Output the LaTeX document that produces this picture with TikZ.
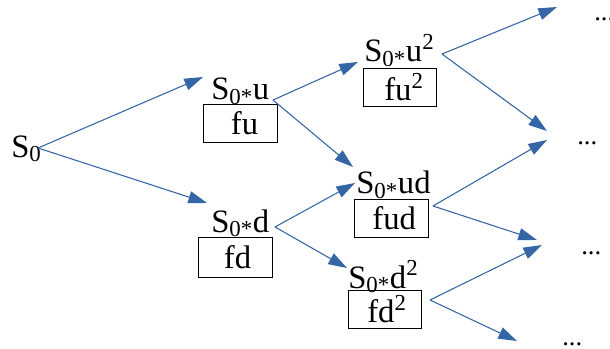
\documentclass[tikz,border=0pt]{standalone}
\usepackage{fontspec}
\setmainfont{Liberation Serif}
\usetikzlibrary{arrows.meta}
\definecolor{arrowblue}{HTML}{3465A4}
\begin{document}
\begin{tikzpicture}[x=0.75pt,y=-0.75pt,
  lab/.style={inner sep=0pt,anchor=base west,font=\fontsize{24.5}{24.5}\selectfont},
  valbox/.style={draw=black,line width=0.75pt,inner sep=0pt,font=\fontsize{24.5}{24.5}\selectfont},
  dots/.style={inner sep=0pt,anchor=base west,font=\fontsize{20}{20}\selectfont},
  arr/.style={draw=arrowblue,line width=0.8pt,-{Triangle[length=14pt,width=9pt]}}]
\useasboundingbox (0,0) rectangle (610,349);
\clip (0,0) rectangle (610,349);
% labels
\node[lab] (s0) at (11,157) {S\textsubscript{0}};
\node[lab] (su) at (211,100) {S\textsubscript{0*}u};
\node[lab] (sd) at (211,232) {S\textsubscript{0*}d};
\node[lab] (suu) at (364,62) {S\textsubscript{0*}u\textsuperscript{2}};
\node[lab] (sud) at (356,194) {S\textsubscript{0*}ud};
\node[lab] (sdd) at (348,288) {S\textsubscript{0*}d\textsuperscript{2}};
% boxes
\node[valbox,minimum width=55pt,minimum height=29pt] (bu) at (240.5,123.5) {\hspace{6pt}fu};
\node[valbox,minimum width=55pt,minimum height=30pt] (bd) at (235.5,257) {\hspace{3pt}fd};
\node[valbox,minimum width=55pt,minimum height=29pt] (buu) at (400,87.5) {\hspace{6pt}fu\textsuperscript{2}};
\node[valbox,minimum width=55pt,minimum height=29pt] (bud) at (391.5,218.5) {\hspace{4pt}fud};
\node[valbox,minimum width=55pt,minimum height=28.5pt] (bdd) at (385,309) {\hspace{3pt}fd\textsuperscript{2}};
% dots
\node[dots] (d1) at (594,21) {...};
\node[dots] (d2) at (577,145) {...};
\node[dots] (d3) at (581,254) {...};
\node[dots] (d4) at (562,345) {...};
% connector end points
\coordinate (p0) at (38,148);
\coordinate (t1) at (203,77);
\coordinate (t2) at (207,203);
\coordinate (pu) at (273,100);
\coordinate (t3) at (358,62);
\coordinate (t4) at (353,167);
\coordinate (pd) at (275,227);
\coordinate (t5) at (355,183);
\coordinate (t6) at (347,268);
\coordinate (puu) at (442,54);
\coordinate (t7) at (557,7);
\coordinate (t8) at (547,131);
\coordinate (pud) at (433,206);
\coordinate (t9) at (547,140);
\coordinate (t10) at (537,240);
\coordinate (pdd) at (430,300);
\coordinate (t11) at (542,245);
\coordinate (t12) at (517,341);
% arrows
\draw[arr] (p0) -- (t1);
\draw[arr] (p0) -- (t2);
\draw[arr] (pu) -- (t3);
\draw[arr] (pu) -- (t4);
\draw[arr] (pd) -- (t5);
\draw[arr] (pd) -- (t6);
\draw[arr] (puu) -- (t7);
\draw[arr] (puu) -- (t8);
\draw[arr] (pud) -- (t9);
\draw[arr] (pud) -- (t10);
\draw[arr] (pdd) -- (t11);
\draw[arr] (pdd) -- (t12);
\end{tikzpicture}
\end{document}
